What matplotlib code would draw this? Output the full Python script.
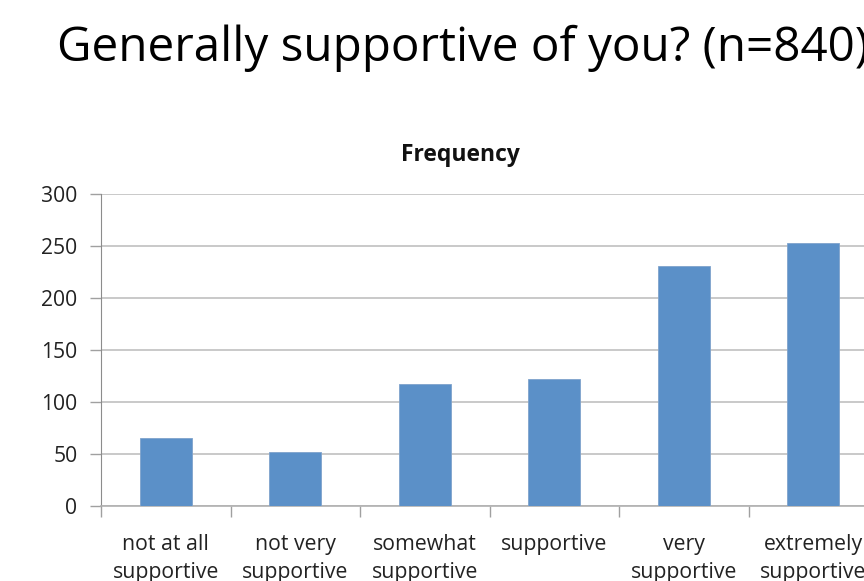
import matplotlib
matplotlib.use("Agg")
import matplotlib.pyplot as plt
import numpy as np

categories = ["not at all\nsupportive", "not very\nsupportive", "somewhat\nsupportive",
              "supportive", "very\nsupportive", "extremely\nsupportive"]
values = [65, 52, 117, 122, 231, 253]
yticks = [0, 50, 100, 150, 200, 250, 300]
title = "Generally supportive of you? (n=840)"
subtitle = "Frequency"

plt.rcParams['font.family'] = ['Open Sans', 'DejaVu Sans']

fig = plt.figure(figsize=(8.64, 5.81), dpi=100)
W, H = 864, 581
ax = fig.add_axes([101 / W, 1 - 506 / H, 6 * 129.5 / W, (506 - 194) / H])

x = np.arange(len(values))
ax.bar(x, values, width=0.4, color="#5B90C8", edgecolor="#7FA3CC", linewidth=0.6, zorder=3)

ax.set_xlim(-0.5, 5.5)
ax.set_ylim(0, 300)
ax.set_yticks(yticks)
ax.set_yticklabels([str(v) for v in yticks], fontsize=15.2, color="#222222")
ax.yaxis.grid(True, color="#C0C0C0", linewidth=1.2, zorder=0)
ax.tick_params(axis="y", length=8, width=1, color="#A0A0A0", pad=9)

ax.set_xticks(x)
ax.set_xticklabels(categories, fontsize=15.3, color="#222222", linespacing=1.45)
ax.tick_params(axis="x", which="major", length=0, pad=20)
ax.set_xticks(np.arange(-0.5, 6.0, 1.0), minor=True)
ax.tick_params(axis="x", which="minor", length=8, width=1, color="#A0A0A0")

for s in ["top", "right"]:
    ax.spines[s].set_visible(False)
ax.spines["left"].set_color("#8C8C8C")
ax.spines["bottom"].set_color("#B0B0B0")
ax.spines["bottom"].set_linewidth(1.2)

fig.text(57 / W, 1 - 48 / H, title, fontsize=34.3, ha="left", va="center", color="black")
fig.text(460 / W, 1 - 155 / H, subtitle, fontsize=16.5, fontweight="bold", ha="center", va="center", color="#111111")

fig.savefig("out.png", dpi=100)
